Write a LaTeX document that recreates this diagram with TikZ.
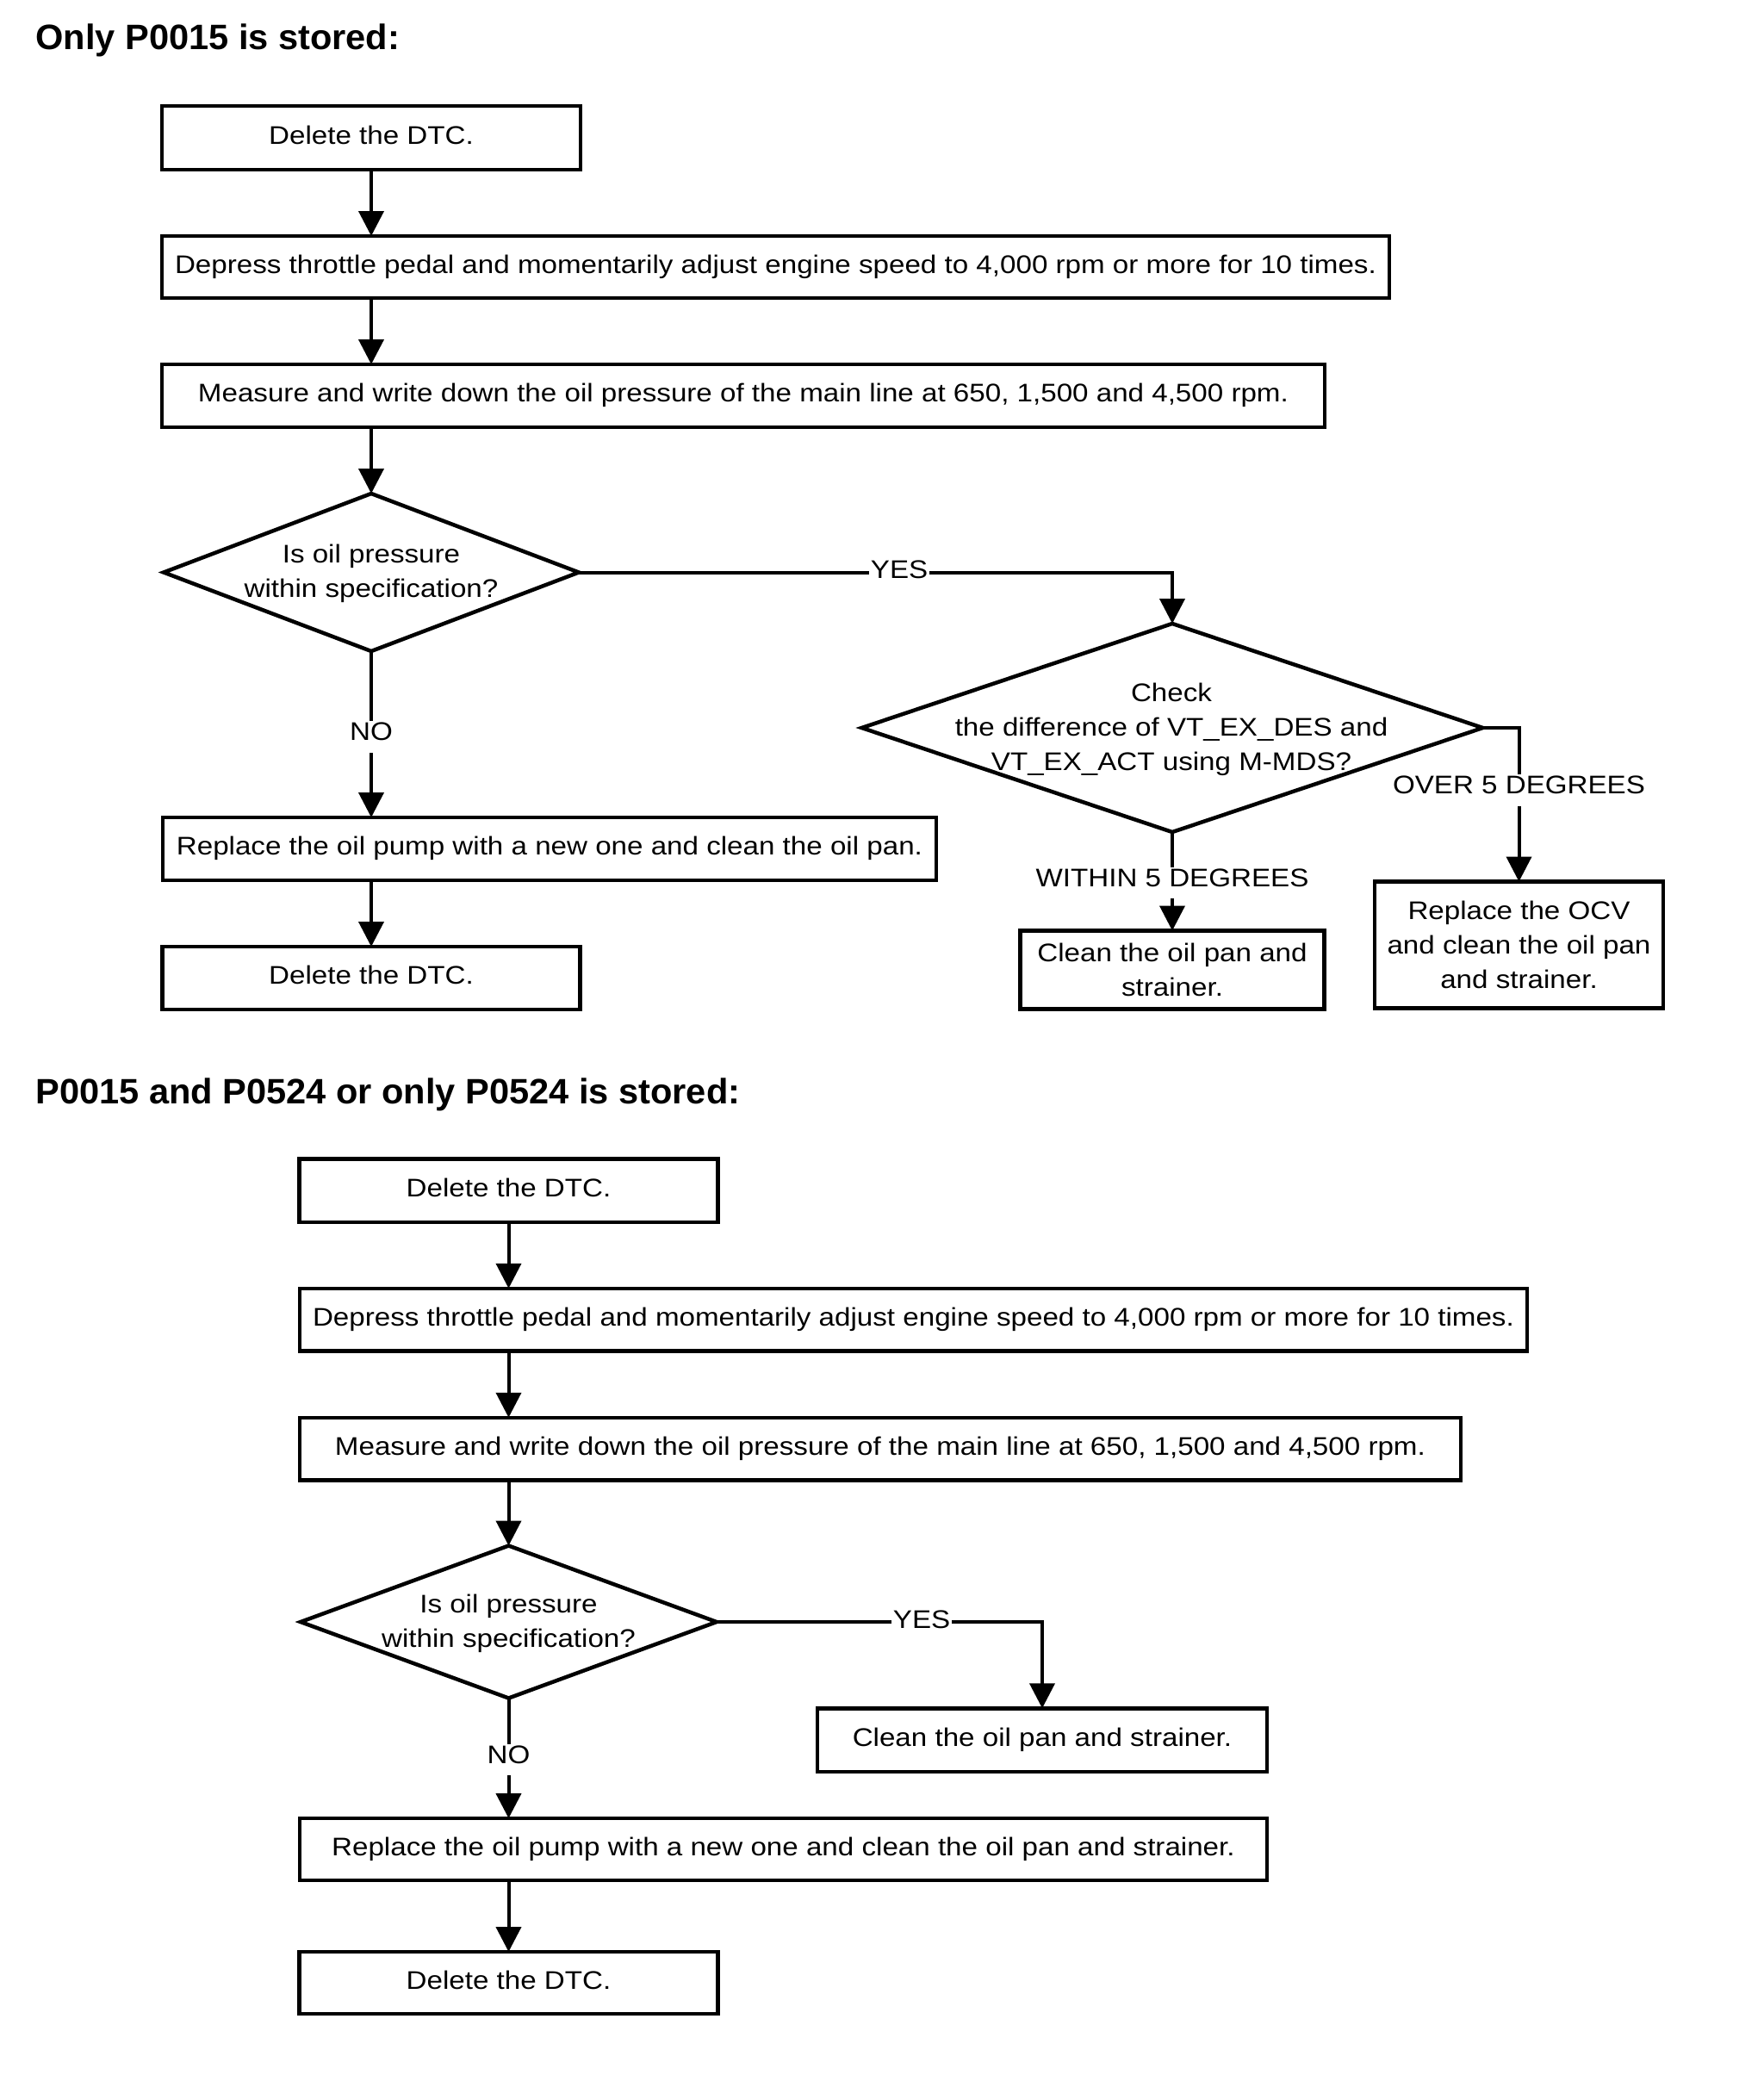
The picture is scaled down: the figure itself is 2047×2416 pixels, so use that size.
\documentclass[tikz,border=0pt]{standalone}
\usepackage{fontspec}
\setmainfont{Liberation Sans}[FakeStretch=1.12]
\newfontfamily\titlefont{Liberation Sans}[FakeStretch=1.014]
\usetikzlibrary{arrows.meta,shapes.geometric}
\begin{document}
\begin{tikzpicture}[x=0.5pt,y=-0.5pt,
  every node/.style={font=\fontsize{14.8pt}{20pt}\selectfont},
  box/.style={draw, line width=2.25pt, rectangle, inner sep=0pt, outer sep=0pt, text height=0.94em, text depth=0.22em},
  tbox/.style={draw, line width=2.25pt, rectangle, inner sep=0pt, outer sep=0pt, align=center},
  dia/.style={draw, line width=2.25pt, diamond, inner sep=0pt, outer sep=0pt},
  txt/.style={align=center, inner sep=0pt},
  arr/.style={line width=2pt, -{Triangle[length=14.5pt,width=14.5pt]}},
  lbl/.style={fill=white, inner xsep=1pt, inner ysep=4pt, text height=0.72em, text depth=0.3em, yshift=-1.5pt},
  ttl/.style={font=\titlefont\bfseries\fontsize{20.5pt}{24pt}\selectfont, anchor=base west, inner sep=0pt}
]
\fill[white] (0,0) rectangle (2047,2416);
\useasboundingbox (0,0) rectangle (2047,2416);

% ---------- Section 1 ----------
\node[ttl] (t1) at (41,57.4) {Only P0015 is stored:};
\node[box, minimum width=243pt, minimum height=37pt] (a1) at (431,160) {Delete the DTC.};
\node[box, minimum width=712.5pt, minimum height=36pt] (a2) at (900.5,310) {Depress throttle pedal and momentarily adjust engine speed to 4,000 rpm or more for 10 times.};
\node[box, minimum width=675pt, minimum height=36.5pt] (a3) at (863,459.5) {Measure and write down the oil pressure of the main line at 650, 1,500 and 4,500 rpm.};
\node[dia, minimum width=241pt, minimum height=91.5pt] (d1) at (431,664.5) {};
\node[txt] (d1t) at (431,666) {Is oil pressure\\within specification?};
\node[dia, minimum width=360.5pt, minimum height=121pt] (d2) at (1361,845) {};
\node[txt] (d2t) at (1360,846.5) {Check\\the difference of VT\_EX\_DES and\\VT\_EX\_ACT using M-MDS?};
\node[box, minimum width=449pt, minimum height=36.5pt] (b1) at (638,985.5) {Replace the oil pump with a new one and clean the oil pan.};
\node[box, minimum width=242.5pt, minimum height=36.5pt] (b2) at (431,1135.5) {Delete the DTC.};
\node[tbox, minimum width=176.5pt, minimum height=45.5pt] (c2) at (1361,1126) {Clean the oil pan and\\strainer.};
\node[tbox, minimum width=167.5pt, minimum height=73.5pt] (c3) at (1763.5,1097) {Replace the OCV\\and clean the oil pan\\and strainer.};

\draw[arr] (a1.south) -- (a1.south |- a2.north);
\draw[arr] (a1.south |- a2.south) -- (a1.south |- a3.north);
\draw[arr] (a1.south |- a3.south) -- (d1.north);
\draw[arr] (d1.east) -- node[lbl,pos=0.54]{YES} (d1.east -| d2.north) -- (d2.north);
\draw[arr] (d1.south) -- node[lbl,pos=0.5]{NO} (d1.south |- b1.north);
\draw[arr] (b2.north |- b1.south) -- (b2.north);
\draw[arr] (d2.south) -- node[lbl,pos=0.49]{WITHIN 5 DEGREES} (d2.south |- c2.north);
\draw[arr] (d2.east) -- (d2.east -| c3.north) -- node[lbl,pos=0.39]{OVER 5 DEGREES} (c3.north);

% ---------- Section 2 ----------
\node[ttl] (t2) at (41,1281) {P0015 and P0524 or only P0524 is stored:};
\node[box, minimum width=243pt, minimum height=36.75pt] (e1) at (590.5,1382) {Delete the DTC.};
\node[box, minimum width=712.5pt, minimum height=36.25pt] (e2) at (1060.5,1532) {Depress throttle pedal and momentarily adjust engine speed to 4,000 rpm or more for 10 times.};
\node[box, minimum width=674pt, minimum height=36.25pt] (e3) at (1022,1682) {Measure and write down the oil pressure of the main line at 650, 1,500 and 4,500 rpm.};
\node[dia, minimum width=241.5pt, minimum height=88.5pt] (d3) at (590.5,1883) {};
\node[txt] (d3t) at (590.5,1884.5) {Is oil pressure\\within specification?};
\node[box, minimum width=261pt, minimum height=36.75pt] (f) at (1210,2020) {Clean the oil pan and strainer.};
\node[box, minimum width=561.5pt, minimum height=36pt] (g) at (909.5,2147) {Replace the oil pump with a new one and clean the oil pan and strainer.};
\node[box, minimum width=243pt, minimum height=36pt] (h) at (590.5,2302) {Delete the DTC.};

\draw[arr] (e1.south) -- (e1.south |- e2.north);
\draw[arr] (e1.south |- e2.south) -- (e1.south |- e3.north);
\draw[arr] (e1.south |- e3.south) -- (d3.north);
\draw[arr] (d3.east) -- node[lbl,pos=0.63]{YES} (d3.east -| f.north) -- (f.north);
\draw[arr] (d3.south) -- node[lbl,pos=0.49]{NO} (d3.south |- g.north);
\draw[arr] (d3.south |- g.south) -- (d3.south |- h.north);
\end{tikzpicture}
\end{document}
